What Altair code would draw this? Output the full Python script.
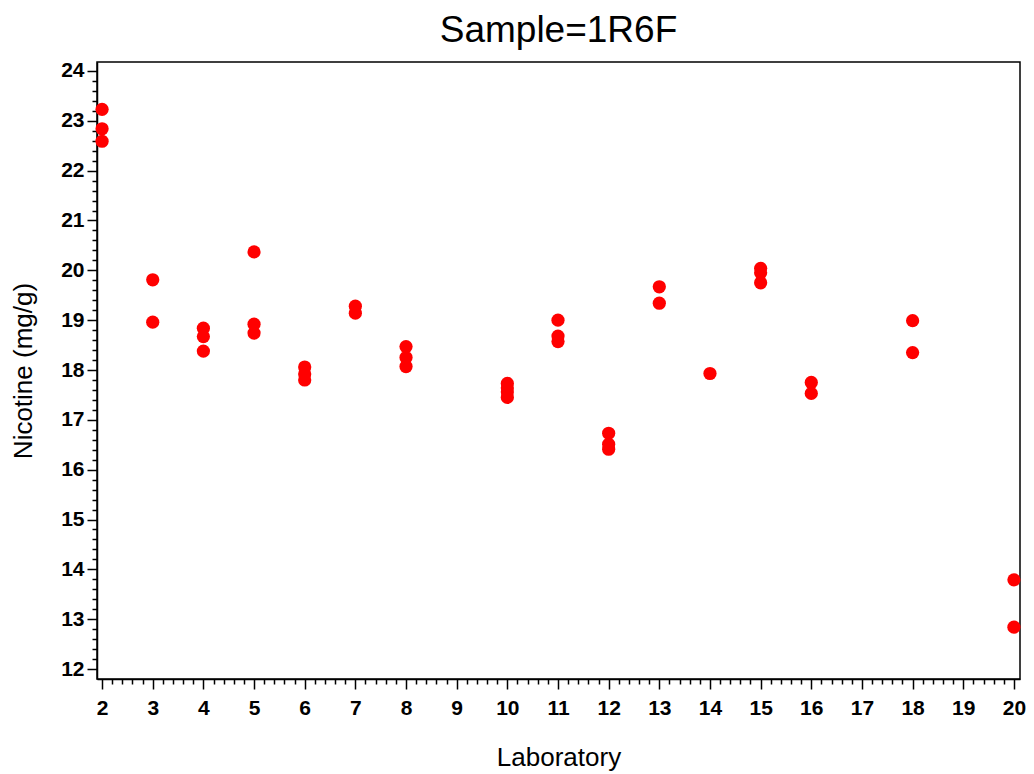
import altair as alt
import pandas as pd

labs = [2, 2, 2,
        3, 3,
        4, 4, 4,
        5, 5, 5,
        6, 6, 6,
        7, 7,
        8, 8, 8,
        10, 10, 10, 10,
        11, 11, 11,
        12, 12, 12,
        13, 13,
        14,
        15, 15, 15,
        16, 16,
        18, 18,
        20, 20]
nicotine = [23.23, 22.84, 22.59,
            19.81, 18.96,
            18.84, 18.67, 18.38,
            20.37, 18.92, 18.74,
            18.06, 17.92, 17.80,
            19.28, 19.14,
            18.47, 18.25, 18.07,
            17.73, 17.64, 17.56, 17.45,
            19.00, 18.68, 18.57,
            16.73, 16.51, 16.41,
            19.67, 19.34,
            17.93,
            20.04, 19.95, 19.75,
            17.75, 17.53,
            18.99, 18.35,
            13.79, 12.84]

x_ticks = [round(2 + i * 0.2, 1) for i in range(0, 91)]
y_ticks = [round(12 + i * 0.2, 1) for i in range(0, 61)]

df = pd.DataFrame({"Laboratory": labs, "Nicotine": nicotine})

FONT = "Liberation Sans"
major_test = "abs(datum.value - round(datum.value)) < 0.01"

x_axis = alt.Axis(
    values=x_ticks,
    labelExpr=f"{major_test} ? format(round(datum.value), 'd') : ''",
    labelOverlap=False,
    tickSize={"condition": {"test": major_test, "value": 10}, "value": 5},
    tickColor="black", domainColor="black", tickWidth=1.5, domainWidth=1.5,
    labelFont=FONT, labelFontSize=21, labelFontWeight="bold", labelColor="black",
    labelPadding=8,
    titleFont=FONT, titleFontSize=26, titleFontWeight="normal", titleColor="black",
    titlePadding=26, grid=False,
)
y_axis = alt.Axis(
    values=y_ticks,
    labelExpr=f"{major_test} ? format(round(datum.value), 'd') : ''",
    labelOverlap=False,
    tickSize={"condition": {"test": major_test, "value": 10}, "value": 5},
    tickColor="black", domainColor="black", tickWidth=1.5, domainWidth=1.5,
    labelFont=FONT, labelFontSize=21, labelFontWeight="bold", labelColor="black",
    labelPadding=3,
    titleFont=FONT, titleFontSize=26, titleFontWeight="normal", titleColor="black",
    titlePadding=24, grid=False,
)

chart = alt.Chart(df).mark_circle(size=175, color="#FF0000", opacity=1).encode(
    x=alt.X("Laboratory:Q", title="Laboratory",
            scale=alt.Scale(domain=[1.9, 20.12], nice=False, zero=False), axis=x_axis),
    y=alt.Y("Nicotine:Q", title="Nicotine (mg/g)",
            scale=alt.Scale(domain=[11.8, 24.18], nice=False, zero=False), axis=y_axis),
).properties(
    width=923, height=617,
    title=alt.TitleParams("Sample=1R6F", font=FONT, fontSize=37, fontWeight="normal",
                          color="black", anchor="middle", offset=10),
    autosize=alt.AutoSizeParams(type="none"),
    padding={"left": 97, "top": 62, "right": 14, "bottom": 95},
).configure(background="white").configure_view(stroke="black", strokeWidth=1.5)

chart.save("out.html", embed_options={"renderer": "svg", "actions": False})
